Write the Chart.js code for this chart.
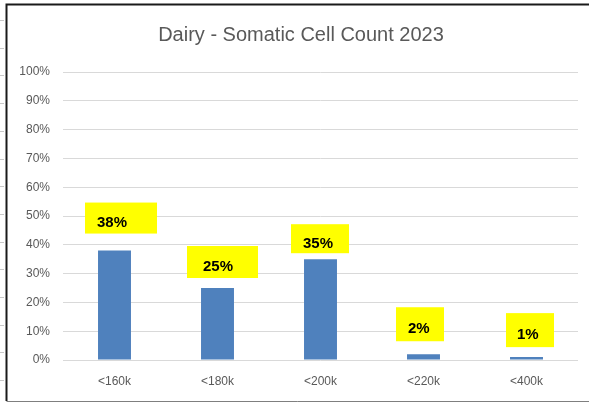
<!DOCTYPE html>
<html>
<head>
<meta charset="utf-8">
<script src="https://cdn.jsdelivr.net/npm/chart.js@4/dist/chart.umd.min.js"></script>
<style>
  html, body { margin: 0; padding: 0; background: #fff; }
  canvas { display: block; }
</style>
</head>
<body>
<canvas id="sccChart" width="589" height="403"></canvas>
<script>
// categories and shares (percent of herds)
var categories = ['<160k', '<180k', '<200k', '<220k', '<400k'];
var shares = [38, 25, 35, 2, 1];
var yTickMax = 100;
var yTickStep = 10;
var chartTitle = 'Dairy - Somatic Cell Count 2023';

// yellow label boxes, placed relative to the top of each bar
// dx: box centre offset from bar centre, rise: gap above bar top, tx: text inset
var labelBoxes = [
  { dx: 6.5, rise: 17, w: 72, h: 31, tx: 12 },
  { dx: 5, rise: 10, w: 71, h: 32, tx: 16 },
  { dx: -0.5, rise: 6, w: 58, h: 29, tx: 12 },
  { dx: -3.5, rise: 13, w: 48, h: 34, tx: 12 },
  { dx: 3.5, rise: 10, w: 48, h: 34, tx: 11 }
];

var FONT = "'Liberation Sans', Arial, sans-serif";
var GREY_TEXT = '#595959';

// sheet frame, row marks on the left edge and the title
var framePlugin = {
  id: 'frame',
  beforeDraw: function (chart) {
    var c = chart.ctx;
    c.save();
    c.fillStyle = '#fff';
    c.fillRect(0, 0, chart.width, chart.height);
    c.strokeStyle = '#c8c8c8';
    c.lineWidth = 1;
    for (var y = 20; y < chart.height; y += 27.7) {
      c.beginPath();
      c.moveTo(0, Math.round(y) + 0.5);
      c.lineTo(4, Math.round(y) + 0.5);
      c.stroke();
    }
    c.strokeStyle = '#1a1a1a';
    c.lineWidth = 2;
    c.beginPath();
    c.moveTo(chart.width, 4.5);
    c.lineTo(6.5, 4.5);
    c.lineTo(6.5, 401);
    c.stroke();
    c.strokeStyle = '#7f7f7f';
    c.lineWidth = 1;
    c.beginPath();
    c.moveTo(6.5, 401.5);
    c.lineTo(chart.width, 401.5);
    c.stroke();

    c.fillStyle = GREY_TEXT;
    c.font = '20px ' + FONT;
    c.textAlign = 'center';
    c.textBaseline = 'middle';
    c.fillText(chartTitle, 301, 35);
    c.restore();
  }
};

// value labels in yellow boxes
var labelPlugin = {
  id: 'valueBoxes',
  afterDatasetsDraw: function (chart) {
    var c = chart.ctx;
    var meta = chart.getDatasetMeta(0);
    c.save();
    c.font = 'bold 15px ' + FONT;
    c.textBaseline = 'middle';
    c.textAlign = 'left';
    meta.data.forEach(function (bar, i) {
      var b = labelBoxes[i];
      var left = bar.x + b.dx - b.w / 2;
      var top = bar.y - b.rise - b.h;
      c.fillStyle = '#ffff00';
      c.fillRect(left, top, b.w, b.h);
      c.fillStyle = '#000';
      c.fillText(shares[i] + '%', left + b.tx, top + b.h / 2 + 5);
    });
    c.restore();
  }
};

var ctx = document.getElementById('sccChart').getContext('2d');
var sccChart = new Chart(ctx, {
  type: 'bar',
  data: {
    labels: categories,
    datasets: [{
      data: shares,
      backgroundColor: '#4f81bd',
      borderWidth: 0,
      categoryPercentage: 1,
      barPercentage: 0.32
    }]
  },
  options: {
    responsive: false,
    animation: false,
    layout: { padding: { left: 0, right: 11, top: 72, bottom: 0 } },
    scales: {
      x: {
        afterFit: function (scale) { scale.height = 43; },
        grid: { display: false, drawTicks: false },
        border: { display: false },
        ticks: { color: GREY_TEXT, font: { family: FONT, size: 12 }, padding: 14 }
      },
      y: {
        min: 0,
        max: yTickMax,
        afterFit: function (scale) { scale.width = 63; },
        grid: { color: '#d9d9d9', drawTicks: false },
        border: { display: false },
        ticks: {
          stepSize: yTickStep,
          color: GREY_TEXT,
          font: { family: FONT, size: 12 },
          padding: 13,
          callback: function (v) { return v + '%'; }
        }
      }
    },
    plugins: {
      legend: { display: false },
      tooltip: { enabled: false },
      title: { display: false }
    }
  },
  plugins: [framePlugin, labelPlugin]
});
</script>
</body>
</html>
